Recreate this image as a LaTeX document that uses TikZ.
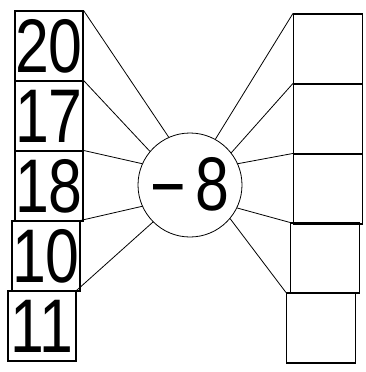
\documentclass[tikz,border=0pt]{standalone}
\usepackage{fontspec}
\setmainfont{Liberation Sans}
\newfontfamily\digitfont[FakeStretch=0.8]{Liberation Sans}

\tikzset{
  numbox/.style={draw,line width=1.1pt,minimum width=68pt,minimum height=70pt,inner sep=0pt,
    font=\digitfont\fontsize{76}{76}\selectfont},
  ansbox/.style={draw,line width=1.1pt,minimum width=69pt,minimum height=70pt,inner sep=0pt},
  ray/.style={line width=0.8pt}
}

\begin{document}
\begin{tikzpicture}[x=1pt,y=-1pt]
\useasboundingbox (0,0) rectangle (366,372);
% operator circle
\node[draw,circle,line width=0.8pt,minimum size=104pt,inner sep=0pt,
  font=\digitfont\fontsize{76}{76}\selectfont] (op) at (190,185) {\raisebox{-2pt}{−}\hspace{10pt}8};
% left column
\node[numbox] (l1) at (49,46) {20};
\node[numbox] (l2) at (49,116) {17};
\node[numbox] (l3) at (49,186) {18};
\node[numbox] (l4) at (46,256) {10};
\node[numbox] (l5) at (42,326) {11};
% right column
\node[ansbox] (r1) at (328,49) {};
\node[ansbox] (r2) at (328,119) {};
\node[ansbox] (r3) at (328,189) {};
\node[ansbox] (r4) at (325,258) {};
\node[ansbox] (r5) at (321,328) {};
% rays
\draw[ray] (l1.north east) -- (op.114);
\draw[ray] (l2.north east) -- (op.140);
\draw[ray] (l3.north east) -- (op.156);
\draw[ray] (l4.north east) -- (op.204);
\draw[ray] (l5.north east) -- (op.225);
\draw[ray] (r1.north west) -- (op.61);
\draw[ray] (r2.north west) -- (op.38);
\draw[ray] (r3.north west) -- (op.24);
\draw[ray] (r4.north west) -- (op.334);
\draw[ray] (r5.north west) -- (op.320);
\end{tikzpicture}
\end{document}
